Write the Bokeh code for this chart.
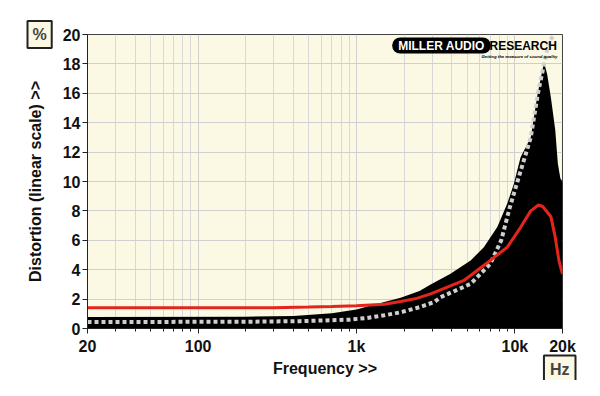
from bokeh.plotting import figure
from bokeh.models import Range1d, FixedTicker, Label, Title
from bokeh.embed import file_html
from bokeh.resources import INLINE

# ---- data ----
env_freq = [20, 200, 400, 700, 1000, 1170, 1500, 1900, 2500, 2940, 3900, 5260, 6370, 7750,
            8960, 9860, 10870, 12600, 13900, 14500, 15300, 16000, 16900, 18000, 18700,
            19400, 20000]
env_val = [0.78, 0.80, 0.85, 1.03, 1.3, 1.5, 1.8, 2.1, 2.55, 3.0, 3.7, 4.63, 5.53, 6.9,
           8.5, 9.85, 11.65, 13.0, 15.9, 16.9, 18.1, 17.3, 15.7, 13.5, 11.2,
           10.2, 10.0]

red_freq = [20, 300, 500, 700, 1000, 1500, 1900, 2400, 2940, 4770, 7000, 8960,
            10900, 12600, 14100, 15000, 16900, 18000, 19000, 20000]
red_val = [1.42, 1.42, 1.46, 1.5, 1.55, 1.65, 1.84, 2.05, 2.36, 3.27, 4.63, 5.53,
           6.9, 8.0, 8.4, 8.3, 7.6, 6.2, 4.6, 3.7]

dot_freq = [20, 200, 440, 900, 1170, 1500, 1900, 2500, 3100, 3400, 5260, 7000, 8200,
            9300, 10900, 11900, 12600, 14000, 15300, 16500, 18000]
dot_val = [0.44, 0.46, 0.5, 0.6, 0.72, 0.9, 1.1, 1.45, 1.8, 2.13, 3.04, 4.4, 5.99,
           8.25, 10.75, 12.1, 13.0, 16.0, 18.0, 19.6, 20.0]

y_ticks = list(range(0, 21, 2))
x_major = [20, 100, 1000, 10000, 20000]
x_major_labels = {20: "20", 100: "100", 1000: "1k", 10000: "10k", 20000: "20k"}
x_minor = [30, 40, 50, 60, 70, 80, 90, 200, 300, 400, 500, 600, 700, 800, 900,
           2000, 3000, 4000, 5000, 6000, 7000, 8000, 9000]

FONT = "Liberation Sans"
CREAM = "#fbf8e3"

p = figure(width=584, height=380, x_axis_type="log", output_backend="svg",
           toolbar_location=None, x_range=Range1d(20, 20000), y_range=Range1d(0, 20),
           min_border_left=87, min_border_right=22, min_border_top=34, min_border_bottom=52,
           background_fill_color=CREAM, border_fill_color="white")
p.outline_line_color = "#444444"
p.outline_line_width = 1

# grids
p.xgrid.grid_line_color = "#cfcfcf"
p.xgrid.minor_grid_line_color = "#d8d8d8"
p.ygrid.grid_line_color = "#cfcfcf"

# axes
p.xaxis.ticker = FixedTicker(ticks=x_major, minor_ticks=x_minor)
p.xaxis.major_label_overrides = x_major_labels
p.yaxis.ticker = FixedTicker(ticks=y_ticks)
for ax in (p.xaxis[0], p.yaxis[0]):
    ax.axis_line_color = "#222222"
    ax.major_tick_line_color = "#222222"
    ax.minor_tick_line_color = "#222222"
    ax.major_tick_in = 0
    ax.major_tick_out = 5
    ax.minor_tick_in = 0
    ax.minor_tick_out = 3
    ax.major_label_text_font = FONT
    ax.major_label_text_font_style = "bold"
    ax.major_label_text_font_size = "16px"
    ax.major_label_text_color = "#111111"
    ax.axis_label_text_font = FONT
    ax.axis_label_text_font_style = "bold"
    ax.axis_label_text_font_size = "16px"
    ax.axis_label_text_color = "#111111"
p.yaxis.major_label_standoff = 2
p.xaxis.major_label_standoff = 4
p.xaxis.axis_label = "Frequency >>"
p.yaxis.axis_label = "Distortion (linear scale) >>"
p.xaxis.axis_label_standoff = 2
p.yaxis.axis_label_standoff = 16

# data
p.varea(x=env_freq, y1=[0] * len(env_freq), y2=env_val, fill_color="black")
p.line(dot_freq, dot_val, line_color="#cfcfcf", line_width=4, line_dash="4 3")
p.line(red_freq, red_val, line_color="#e5251b", line_width=3)

# unit boxes (titles live in the side panels, so they are not clipped)
pct = Title(text="%", align="left", offset=-60, standoff=-27,
            text_font=FONT, text_font_style="bold", text_font_size="16px",
            background_fill_color=CREAM, border_line_color="#222222", border_line_width=2,
            padding=(5, 5))
p.add_layout(pct, "above")
hz = Title(text="Hz", align="right", offset=-13, standoff=-48, vertical_align="top",
           text_font=FONT, text_font_style="bold", text_font_size="16px",
           background_fill_color=CREAM, border_line_color="#222222", border_line_width=2,
           padding=(6, 5))
p.add_layout(hz, "below")

# logo (screen units relative to the plot frame: x from left, y up from bottom)
logo1 = Label(x=354, y=283, x_units="screen", y_units="screen", text="MILLER AUDIO",
              text_align="center", text_baseline="middle",
              text_font=FONT, text_font_style="bold", text_font_size="12px", text_color="white",
              background_fill_color="black", padding=(6, 1), border_radius=8)
logo2 = Label(x=402, y=283, x_units="screen", y_units="screen", text="RESEARCH",
              text_align="left", text_baseline="middle",
              text_font=FONT, text_font_style="bold", text_font_size="12px", text_color="black")
logo3 = Label(x=394, y=272, x_units="screen", y_units="screen",
              text="Getting the measure of sound quality",
              text_align="left", text_baseline="middle",
              text_font=FONT, text_font_style="bold italic", text_font_size="4.3px", text_color="black")
for l in (logo1, logo2, logo3):
    p.add_layout(l)

open("out.html", "w").write(file_html(p, INLINE))
